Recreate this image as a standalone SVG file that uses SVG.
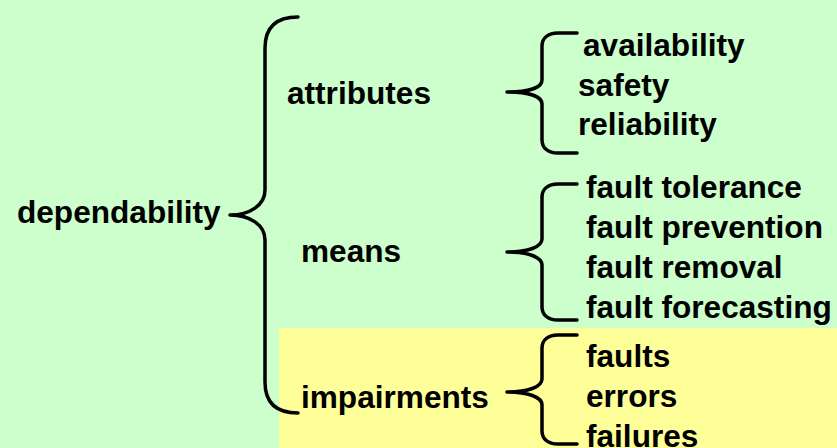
<svg xmlns="http://www.w3.org/2000/svg" width="837" height="448" viewBox="0 0 837 448">
<style>
text{font-family:"Liberation Sans",Arial,sans-serif;font-weight:bold;font-size:31.6px;fill:#000}
.br{fill:none;stroke:#000;stroke-width:3.5;stroke-linecap:round;stroke-linejoin:round}
</style>
<rect x="0" y="0" width="837" height="448" fill="#ccffcc"/>
<rect x="279" y="328" width="558" height="120" fill="#ffff99"/>
<g id="connectors">
<path class="br" d="M298,17 C275,17 265,28 265,48 L265,190 C265,205 250,215 230,215 C250,215 265,225 265,240 L265,382 C265,402 275,413 298,413"/>
<path class="br" d="M577,33 L558,33 C548,33 542,38 542,46 L542,80 C542,88 528,92 507,92 C528,92 542,96 542,104 L542,140 C542,148 548,153 558,153 L577,153"/>
<path class="br" d="M577,184 L558,184 C548,184 542,189 542,197 L542,239 C542,247 528,252 507,252 C528,252 542,257 542,265 L542,307 C542,315 548,320 558,320 L577,320"/>
<path class="br" d="M577,335 L558,335 C548,335 542,340 542,348 L542,379 C542,387 528,392 507,392 C528,392 542,397 542,405 L542,431 C542,439 548,444 558,444 L577,444"/>
</g>
<g id="dependability"><text x="17" y="223">dependability</text></g>
<g id="attributes"><text x="287" y="104">attributes</text></g>
<g id="means"><text x="301" y="262">means</text></g>
<g id="impairments"><text x="301" y="408">impairments</text></g>
<g id="availability"><text x="583" y="56">availability</text></g>
<g id="safety"><text x="578" y="96">safety</text></g>
<g id="reliability"><text x="578" y="135">reliability</text></g>
<g id="fault-tolerance"><text x="586" y="198">fault tolerance</text></g>
<g id="fault-prevention"><text x="586" y="238">fault prevention</text></g>
<g id="fault-removal"><text x="586" y="278">fault removal</text></g>
<g id="fault-forecasting"><text x="586" y="318">fault forecasting</text></g>
<g id="faults"><text x="586" y="367">faults</text></g>
<g id="errors"><text x="586" y="407">errors</text></g>
<g id="failures"><text x="586" y="447">failures</text></g>
</svg>
